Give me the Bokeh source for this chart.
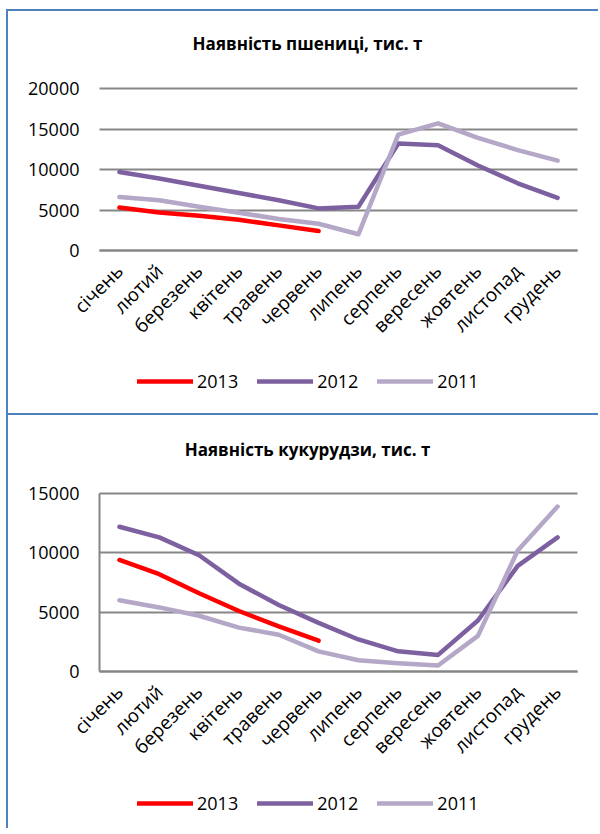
from math import pi
from bokeh.plotting import figure
from bokeh.models import Range1d, FixedTicker, Legend, LegendItem, Label
from bokeh.layouts import column
from bokeh.embed import file_html
from bokeh.resources import INLINE

months = ["січень", "лютий", "березень", "квітень", "травень", "червень",
          "липень", "серпень", "вересень", "жовтень", "листопад", "грудень"]
years = ["2013", "2012", "2011"]

wheat_title = "Наявність пшениці, тис. т"
wheat_2013 = [5300, 4700, 4300, 3800, 3100, 2400]
wheat_2012 = [9700, 8900, 8000, 7100, 6200, 5200, 5400, 13200, 13000, 10500, 8300, 6500]
wheat_2011 = [6600, 6200, 5400, 4650, 3900, 3300, 2000, 14300, 15700, 13900, 12400, 11100]
wheat_ticks = [0, 5000, 10000, 15000, 20000]

corn_title = "Наявність кукурудзи, тис. т"
corn_2013 = [9400, 8200, 6600, 5100, 3800, 2600]
corn_2012 = [12200, 11300, 9800, 7400, 5600, 4100, 2700, 1700, 1400, 4300, 8900, 11300]
corn_2011 = [6000, 5400, 4700, 3700, 3100, 1700, 950, 700, 500, 3000, 10200, 13900]
corn_ticks = [0, 5000, 10000, 15000]

FONT = "Open Sans"
COLORS = ["#FF0000", "#7D60A0", "#B4A7C8"]
GRID = "#868686"
BORDER = "#4F81BD"
W = 592
PLOT_L = 91      # canvas px of the plot-area left edge
PLOT_R = 569     # canvas px of the plot-area right edge
n = len(months)
UNIT = (PLOT_R - PLOT_L) / n
X0 = -0.5 - PLOT_L / UNIT
X1 = n - 0.5 + (W - PLOT_R) / UNIT


def make_chart(title, series, ticks, height, plot_top, plot_h, y_axis_line,
               margin, legend_vy, title_y):
    ymax = ticks[-1]
    per_px = ymax / plot_h
    ystart = ymax - (height - plot_top) * per_px
    yend = ymax + plot_top * per_px
    p = figure(width=W, height=height,
               x_range=Range1d(X0, X1), y_range=Range1d(ystart, yend),
               output_backend="svg", toolbar_location=None,
               min_border_left=0, min_border_right=0,
               min_border_top=0, min_border_bottom=0,
               margin=margin,
               styles={"border-top": f"2px solid {BORDER}",
                       "border-left": f"2px solid {BORDER}"})
    p.outline_line_color = None
    p.background_fill_color = "white"
    p.border_fill_color = "white"
    p.grid.visible = False

    items = []
    for yr, vals, col in zip(years, series, COLORS):
        r = p.line(list(range(len(vals))), vals, line_color=col, line_width=4.5,
                   line_cap="round", line_join="round")
        items.append(LegendItem(label=yr, renderers=[r]))

    # y axis at the plot-area edge; its inward ticks act as the horizontal gridlines
    ya = p.yaxis[0]
    ya.fixed_location = -0.5
    ya.level = "underlay"
    ya.bounds = (0, ymax)
    ya.ticker = FixedTicker(ticks=ticks)
    ya.major_tick_line_color = GRID
    ya.major_tick_line_width = 2
    ya.major_tick_in = PLOT_R - PLOT_L
    ya.major_tick_out = 0
    ya.minor_tick_line_color = None
    ya.major_label_standoff = 20
    ya.major_label_text_font = FONT
    ya.major_label_text_font_size = "18px"
    ya.major_label_text_color = "black"
    if y_axis_line:
        ya.axis_line_color = GRID
        ya.axis_line_width = 2
    else:
        ya.axis_line_color = None

    xa = p.xaxis[0]
    xa.fixed_location = 0
    xa.level = "underlay"
    xa.bounds = (-0.5, n - 0.5)
    xa.ticker = FixedTicker(ticks=list(range(n)))
    xa.major_label_overrides = {i: m for i, m in enumerate(months)}
    xa.axis_line_color = GRID
    xa.axis_line_width = 2
    xa.major_tick_line_color = None
    xa.minor_tick_line_color = None
    xa.major_tick_out = 0
    xa.major_tick_in = 0
    xa.major_label_orientation = pi / 4
    xa.major_label_standoff = 17
    xa.major_label_text_font = FONT
    xa.major_label_text_font_size = "19px"
    xa.major_label_text_color = "black"

    lg = Legend(items=items, orientation="horizontal",
                location=(PLOT_L + 38, legend_vy),
                glyph_width=56, glyph_height=20, label_standoff=4, spacing=19,
                padding=0, margin=0, border_line_alpha=0, background_fill_alpha=0,
                label_text_font=FONT, label_text_font_size="18px",
                label_text_color="black")
    p.add_layout(lg)

    p.add_layout(Label(x=299, y=title_y, x_units="screen", y_units="screen",
                       text=title, text_align="center", text_baseline="middle",
                       text_font=FONT, text_font_size="17px", text_font_style="bold",
                       text_color="black"))
    return p


p1 = make_chart(wheat_title, [wheat_2013, wheat_2012, wheat_2011], wheat_ticks,
                404, 77, 162, False, (9, 0, 0, 6), 22, 404 - 32)
p2 = make_chart(corn_title, [corn_2013, corn_2012, corn_2011], corn_ticks,
                415, 78, 178, True, (0, 0, 0, 6), 15, 415 - 34)

layout = column(p1, p2, spacing=0)
open("out.html", "w").write(file_html(layout, INLINE))
